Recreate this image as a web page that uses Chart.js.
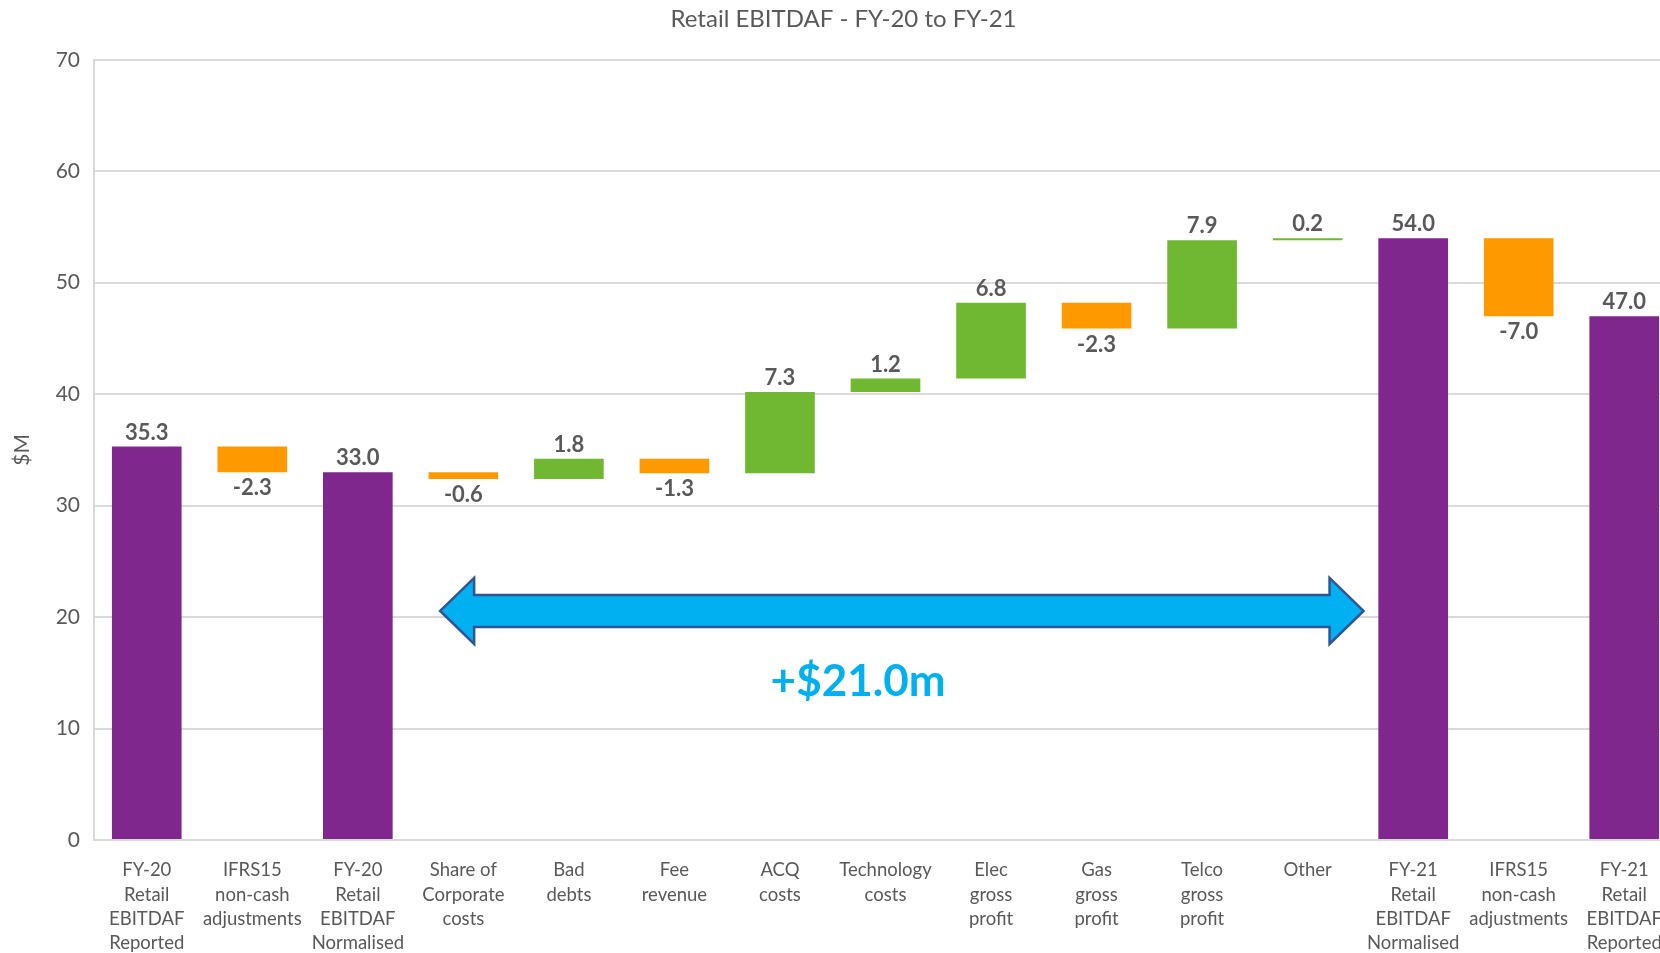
<!DOCTYPE html>
<html>
<head>
<meta charset="utf-8">
<title>Retail EBITDAF - FY-20 to FY-21</title>
<script src="https://cdn.jsdelivr.net/npm/chart.js@4"></script>
<style>
    html, body { margin: 0; padding: 0; background: #fff; overflow: hidden; }
    #wrap { width: 1700px; height: 953px; position: relative; }
</style>
</head>
<body>
<div id="wrap"><canvas id="waterfall"></canvas></div>
<script>
// categories (multi-line tick labels)
let categories = [
    ["FY-20", "Retail", "EBITDAF", "Reported"],
    ["IFRS15", "non-cash", "adjustments"],
    ["FY-20", "Retail", "EBITDAF", "Normalised"],
    ["Share of", "Corporate", "costs"],
    ["Bad", "debts"],
    ["Fee", "revenue"],
    ["ACQ", "costs"],
    ["Technology", "costs"],
    ["Elec", "gross", "profit"],
    ["Gas", "gross", "profit"],
    ["Telco", "gross", "profit"],
    ["Other"],
    ["FY-21", "Retail", "EBITDAF", "Normalised"],
    ["IFRS15", "non-cash", "adjustments"],
    ["FY-21", "Retail", "EBITDAF", "Reported"],
];
// totals are full bars, the rest are movements
let values = [35.3, -2.3, 33.0, -0.6, 1.8, -1.3, 7.3, 1.2, 6.8, -2.3, 7.9, 0.2, 54.0, -7.0, 47.0];
let isTotal = [true, false, true, false, false, false, false, false, false, false, false, false, true, false, true];
let yTicks = [0, 10, 20, 30, 40, 50, 60, 70];
let changeText = "+$21.0m";

let purple = "#7F278D";
let orange = "#FF9900";
let green = "#70B732";
let grey = "#595959";
let gridGrey = "#D9D9D9";

// build the floating ranges from the running total
let ranges = [];
let colors = [];
let running = 0;
values.forEach((v, i) => {
    if (isTotal[i]) {
        ranges.push([0, v]);
        running = v;
        colors.push(purple);
    } else {
        let start = running;
        running = Math.round((running + v) * 10) / 10;
        ranges.push([Math.min(start, running), Math.max(start, running)]);
        colors.push(v < 0 ? orange : green);
    }
});

let labelPlugin = {
    id: "barLabels",
    afterDatasetsDraw(chart) {
        let ctx = chart.ctx;
        let x = chart.scales.x;
        let y = chart.scales.y;
        ctx.save();
        ctx.font = "bold 22px Lato";
        ctx.fillStyle = grey;
        ctx.textAlign = "center";
        ctx.textBaseline = "middle";
        values.forEach((v, i) => {
            let cx = x.getPixelForValue(i);
            let txt = v.toFixed(1);
            if (v < 0) {
                ctx.fillText(txt, cx, y.getPixelForValue(ranges[i][0]) + 16);
            } else {
                ctx.fillText(txt, cx, y.getPixelForValue(ranges[i][1]) - 14);
            }
        });

        // double headed arrow between the two normalised bars
        let x1 = x.getPixelForValue(2.78);
        let x2 = x.getPixelForValue(11.53);
        let cy = y.getPixelForValue(20.55);
        let shaft = 16;
        let head = 33;
        let headLen = 34;
        ctx.beginPath();
        ctx.moveTo(x1, cy);
        ctx.lineTo(x1 + headLen, cy - head);
        ctx.lineTo(x1 + headLen, cy - shaft);
        ctx.lineTo(x2 - headLen, cy - shaft);
        ctx.lineTo(x2 - headLen, cy - head);
        ctx.lineTo(x2, cy);
        ctx.lineTo(x2 - headLen, cy + head);
        ctx.lineTo(x2 - headLen, cy + shaft);
        ctx.lineTo(x1 + headLen, cy + shaft);
        ctx.lineTo(x1 + headLen, cy + head);
        ctx.closePath();
        ctx.fillStyle = "#00B0F0";
        ctx.fill();
        ctx.lineWidth = 2.5;
        ctx.strokeStyle = "#2F5597";
        ctx.stroke();

        ctx.font = "bold 44px Lato";
        ctx.fillStyle = "#00B0F0";
        ctx.fillText(changeText, x.getPixelForValue(6.74), y.getPixelForValue(14.2));
        ctx.restore();
    },
};

let ctx = document.querySelector("#waterfall").getContext("2d");
let myChart = new Chart(ctx, {
    type: "bar",
    data: {
        labels: categories,
        datasets: [
            {
                data: ranges,
                backgroundColor: colors,
                borderWidth: 0,
                borderSkipped: false,
                barPercentage: 0.66,
                categoryPercentage: 1.0,
            },
        ],
    },
    options: {
        responsive: true,
        maintainAspectRatio: false,
        animation: false,
        layout: {
            padding: { left: 10, right: 23, top: 0, bottom: 0 },
        },
        plugins: {
            legend: { display: false },
            tooltip: { enabled: false },
            title: {
                display: true,
                text: "Retail EBITDAF - FY-20 to FY-21",
                color: grey,
                font: { family: "Lato", size: 24, weight: "normal" },
                padding: { top: 5, bottom: 26 },
            },
        },
        scales: {
            x: {
                afterFit(scale) {
                    scale.height = 113;
                },
                grid: { display: false, drawTicks: false },
                border: { color: gridGrey, width: 2 },
                ticks: {
                    color: grey,
                    font: { family: "Lato", size: 18.5, lineHeight: 1.32 },
                    autoSkip: false,
                    maxRotation: 0,
                    minRotation: 0,
                    padding: 18,
                },
            },
            y: {
                min: 0,
                max: 70,
                afterFit(scale) {
                    scale.width = 84;
                },
                afterBuildTicks(scale) {
                    scale.ticks = yTicks.map((v) => ({ value: v }));
                },
                grid: { color: gridGrey, lineWidth: 2, drawTicks: false },
                border: { color: gridGrey, width: 2 },
                ticks: {
                    color: grey,
                    font: { family: "Lato", size: 21 },
                    padding: 14,
                },
                title: {
                    display: true,
                    text: "$M",
                    color: grey,
                    font: { family: "Lato", size: 21 },
                    padding: 0,
                },
            },
        },
    },
    plugins: [labelPlugin],
});
</script>
</body>
</html>
